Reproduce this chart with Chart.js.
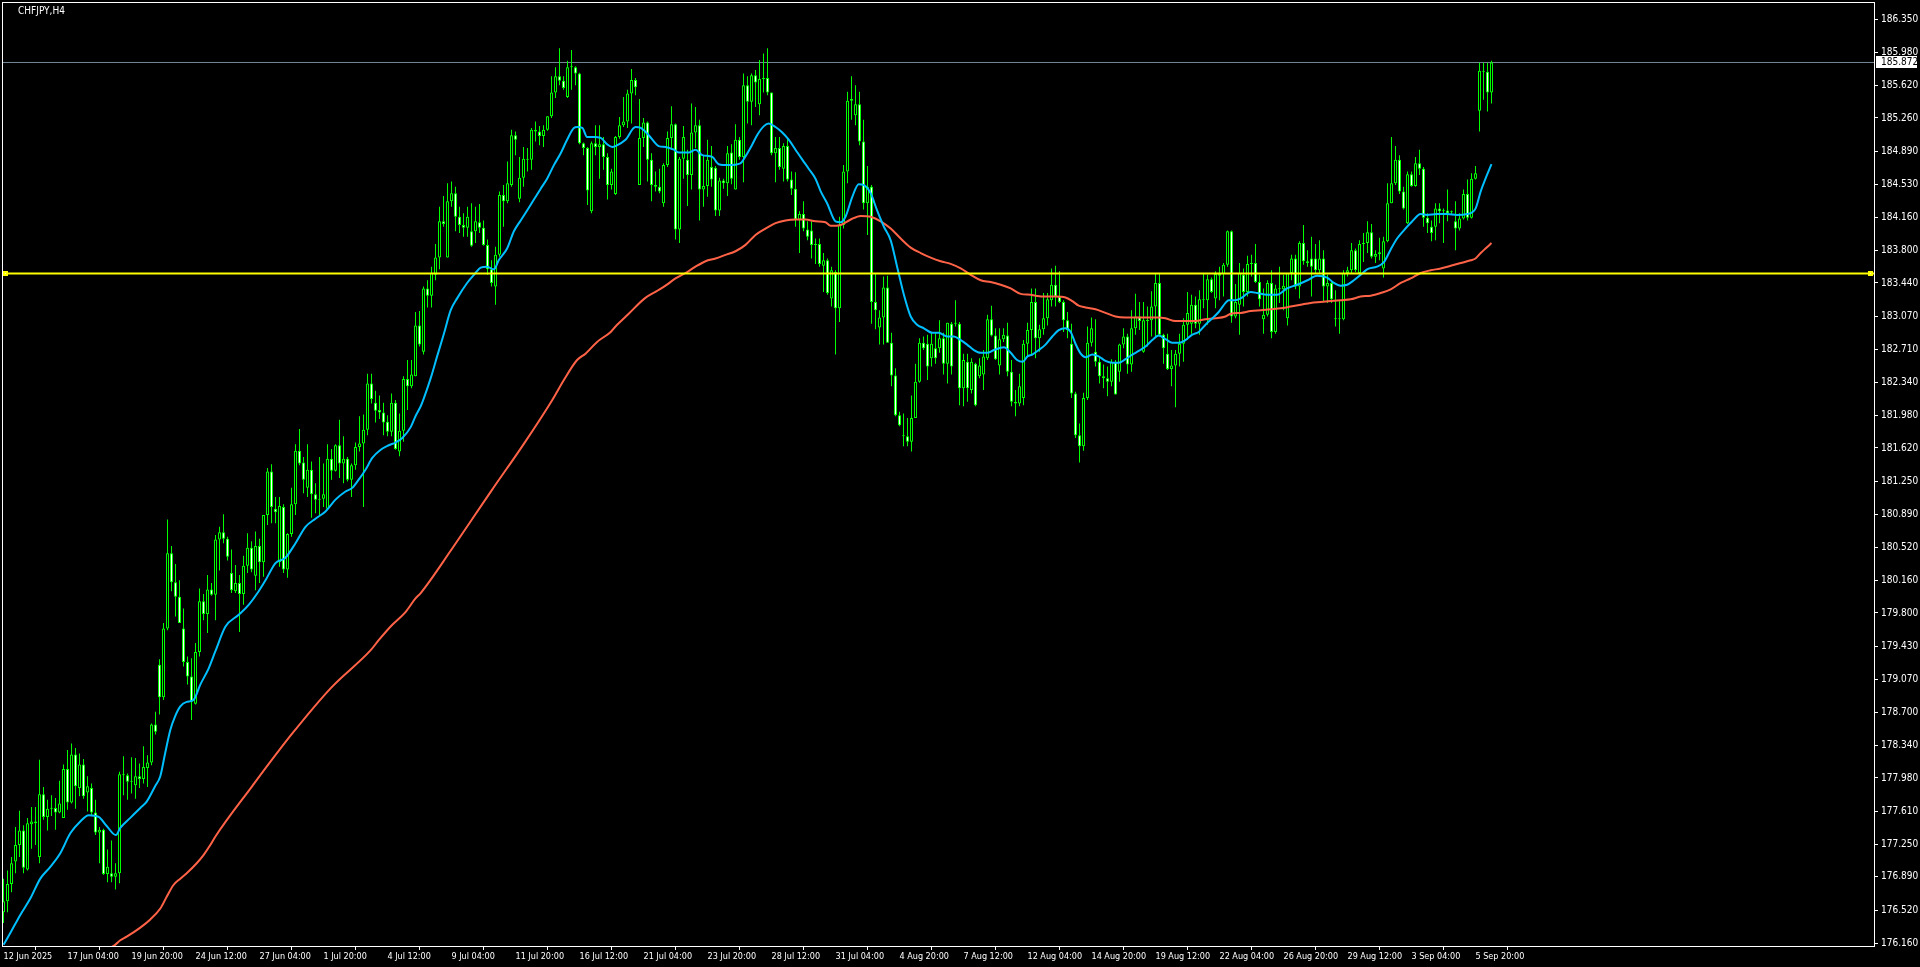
<!DOCTYPE html>
<html>
<head>
<meta charset="utf-8">
<title>CHFJPY,H4</title>
<script src="https://cdn.jsdelivr.net/npm/chart.js@4.4.1/dist/chart.umd.min.js"></script>
<style>
  html, body { margin: 0; padding: 0; background: #000; overflow: hidden; }
  canvas { display: block; }
</style>
</head>
<body>
<canvas id="chart" width="1920" height="967"></canvas>
<script>
// CHFJPY H4, one candle per 4 hours, first bar 12 Jun 2025 12:00
const symbolTitle = 'CHFJPY,H4';

const opens = [
  176.50,176.62,176.81,177.06,177.24,177.40,176.97,177.47,177.50,177.11,
  177.80,177.55,177.64,177.65,177.60,177.54,178.08,177.71,178.24,177.87,
  178.13,177.82,177.87,177.60,177.38,177.41,176.92,176.93,176.89,176.93,
  178.02,178.01,177.94,177.90,178.00,177.97,178.09,178.15,178.57,179.23,
  178.87,179.63,180.46,180.14,179.98,179.63,179.26,179.10,178.80,179.37,
  179.93,179.79,180.06,180.00,180.61,180.69,180.62,180.24,180.04,180.13,
  180.01,180.32,180.52,180.21,180.54,180.36,180.88,181.36,180.95,180.36,
  180.97,180.28,180.67,181.00,181.59,181.46,181.18,181.38,181.11,181.05,
  181.06,180.95,181.50,181.37,181.65,181.45,181.50,181.27,181.43,181.63,
  181.67,181.82,182.33,182.12,182.04,182.01,181.91,181.80,182.12,181.58,
  181.81,182.38,182.30,182.41,182.97,182.68,183.38,183.30,183.53,183.72,
  184.12,183.72,184.34,184.43,184.17,184.08,184.05,184.01,184.01,184.11,
  184.05,183.86,183.59,183.40,183.75,184.41,184.34,184.52,185.07,184.37,
  184.60,184.81,184.80,185.13,185.11,185.06,185.13,185.28,185.54,185.72,
  185.67,185.49,185.82,185.82,185.75,184.98,184.93,184.23,184.98,184.94,
  184.97,184.83,184.52,184.42,185.05,185.18,185.22,185.53,185.68,184.52,
  185.04,185.21,184.80,184.52,184.50,184.32,184.74,185.04,185.19,184.03,
  184.81,184.80,184.63,185.10,185.18,184.47,184.51,184.72,184.71,184.24,
  184.57,184.54,184.88,184.47,185.02,184.83,185.62,185.44,185.73,185.41,
  185.69,185.70,185.54,184.87,184.93,184.70,184.95,184.58,184.48,184.14,
  184.20,184.03,184.02,183.86,183.87,183.63,183.69,183.27,183.56,183.16,
  184.08,184.67,185.45,185.29,185.41,185.00,184.32,184.50,183.23,182.95,
  183.06,183.39,182.78,182.42,181.98,181.75,181.75,181.69,181.95,182.35,
  182.78,182.77,182.61,182.72,182.72,182.83,182.55,182.99,182.99,182.99,
  182.28,182.57,182.26,182.55,182.41,182.43,182.61,183.04,182.86,182.53,
  182.82,182.86,182.46,182.13,182.11,182.17,182.77,182.92,183.23,182.83,
  182.93,183.05,183.25,183.42,183.29,183.23,183.03,182.77,182.22,181.76,
  181.64,182.17,182.78,182.68,182.57,182.41,182.39,182.35,182.57,182.46,
  182.76,182.85,182.54,182.94,183.07,182.68,183.03,183.03,183.18,183.44,
  182.87,182.66,182.49,182.53,182.66,182.77,182.98,182.99,183.20,182.99,
  183.26,183.25,183.48,183.27,183.54,183.54,183.64,184.01,183.07,183.20,
  183.53,183.34,183.65,183.66,183.45,183.04,183.09,183.44,182.90,183.38,
  183.37,183.05,183.55,183.71,183.40,183.88,183.68,183.71,183.71,183.58,
  183.71,183.40,183.44,183.05,183.05,183.04,183.55,183.58,183.80,183.55,
  183.87,183.88,184.00,183.73,183.76,183.60,183.90,184.32,184.54,184.80,
  184.45,184.10,184.64,184.51,184.76,184.70,184.16,184.06,184.06,184.26,
  184.23,184.24,184.22,184.12,184.04,184.15,184.42,184.16,184.59,185.34,
  185.78,185.77,185.54
];

const highs = [
  176.87,176.96,177.11,177.44,177.62,177.46,177.54,177.66,177.66,178.18,
  177.88,177.74,177.79,177.76,177.95,178.13,178.29,178.36,178.31,178.25,
  178.19,178.00,177.92,177.74,177.44,177.42,177.19,177.29,177.04,178.05,
  178.22,178.03,178.21,178.20,178.14,178.33,178.23,178.58,178.71,179.29,
  179.69,180.83,180.54,180.34,180.16,179.85,179.32,179.30,179.47,180.07,
  180.01,180.22,180.13,180.66,180.75,180.89,180.64,180.50,180.33,180.22,
  180.43,180.68,180.59,180.70,180.62,180.88,181.40,181.44,181.08,181.08,
  181.00,180.68,181.18,181.66,181.83,181.52,181.66,181.47,181.23,181.52,
  181.45,181.66,181.61,181.66,181.93,181.75,181.52,181.45,181.68,181.97,
  181.99,182.44,182.44,182.25,182.20,182.12,181.98,182.22,182.15,182.00,
  182.41,182.59,182.59,183.12,183.13,183.40,183.47,183.62,183.87,184.28,
  184.40,184.54,184.56,184.50,184.28,184.21,184.28,184.32,184.28,184.31,
  184.13,183.92,183.69,183.84,184.45,184.52,184.78,185.13,185.11,184.83,
  184.94,184.93,185.15,185.22,185.17,185.18,185.28,185.72,185.82,186.03,
  185.72,185.89,186.01,185.83,185.76,184.99,184.94,185.00,185.18,185.18,
  185.05,184.87,184.70,185.06,185.27,185.49,185.57,185.80,185.70,185.47,
  185.26,185.22,184.87,184.67,184.70,184.76,185.11,185.39,185.20,184.83,
  185.17,184.91,185.42,185.38,185.24,184.85,185.02,184.95,184.73,184.60,
  184.59,184.95,184.97,185.19,185.05,185.75,185.72,185.75,185.79,185.90,
  185.97,186.03,185.54,185.05,185.05,184.98,185.05,184.67,184.66,184.23,
  184.34,184.12,184.12,183.93,183.93,183.77,183.71,183.62,183.58,184.17,
  184.74,185.55,185.72,185.62,185.55,185.24,184.73,184.52,183.55,183.14,
  183.51,183.52,182.89,182.50,182.02,182.00,181.95,182.20,182.55,182.83,
  182.85,182.87,182.89,182.89,183.03,182.89,183.00,183.01,183.25,183.01,
  182.66,182.66,182.61,182.56,182.61,182.70,183.09,183.19,182.94,182.94,
  182.94,183.00,182.59,182.26,182.44,182.81,183.00,183.38,183.38,182.98,
  183.33,183.33,183.60,183.63,183.57,183.25,183.12,182.99,182.24,181.89,
  182.23,182.96,183.06,183.04,182.63,182.54,182.52,182.60,182.59,182.77,
  182.94,182.88,183.14,183.32,183.23,183.23,183.18,183.35,183.54,183.54,
  182.88,182.88,182.70,182.70,182.88,183.05,183.34,183.31,183.29,183.36,
  183.54,183.53,183.50,183.57,183.62,183.66,184.02,184.02,183.43,183.66,
  183.60,183.74,183.75,183.87,183.53,183.38,183.47,183.58,183.42,183.62,
  183.53,183.55,183.75,183.75,183.90,184.08,183.80,183.95,183.87,183.91,
  183.80,183.53,183.47,183.36,183.25,183.58,183.62,183.88,183.82,183.91,
  183.99,184.12,184.09,183.80,183.94,183.95,184.54,185.05,184.95,184.85,
  184.50,184.67,184.67,184.83,184.91,184.72,184.21,184.13,184.32,184.32,
  184.26,184.47,184.24,184.34,184.21,184.47,184.58,184.65,184.73,185.87,
  185.87,185.87,185.89
];

const lows = [
  176.38,176.50,176.72,176.93,177.11,176.93,176.96,177.20,177.24,177.04,
  177.52,177.40,177.56,177.41,177.59,177.54,177.63,177.70,177.64,177.78,
  177.75,177.61,177.57,177.35,177.04,176.91,176.83,176.83,176.75,176.82,
  177.79,177.74,177.81,177.75,177.87,177.92,177.88,178.12,178.46,178.68,
  178.84,179.61,180.04,179.76,179.69,179.21,179.01,178.62,178.79,179.32,
  179.72,179.58,179.99,179.72,180.27,180.57,180.38,180.02,180.02,179.59,
  179.89,180.24,180.25,180.05,180.13,180.20,180.77,180.79,180.79,180.31,
  180.24,180.19,180.64,180.88,181.43,181.12,181.08,180.85,180.90,180.88,
  180.97,180.94,181.27,181.36,181.29,181.23,181.25,181.08,181.38,181.58,
  180.97,181.76,182.11,181.90,181.94,181.76,181.75,181.75,181.60,181.53,
  181.69,182.04,182.28,182.41,182.74,182.65,183.17,183.17,183.47,183.59,
  184.06,183.72,184.28,184.01,183.99,183.95,183.95,183.84,183.88,183.99,
  183.85,183.53,183.40,183.20,183.73,184.06,184.32,184.50,184.85,184.33,
  184.50,184.67,184.69,185.00,184.96,184.94,185.12,185.26,185.48,185.62,
  185.57,185.48,185.57,185.62,184.97,184.85,184.30,184.21,184.85,184.59,
  184.69,184.36,184.47,184.41,185.03,185.16,185.15,185.20,185.51,184.52,
  184.94,184.56,184.34,184.45,184.43,184.28,184.72,184.91,183.92,183.88,
  184.59,184.29,184.47,184.93,184.13,184.28,184.39,184.50,184.18,184.18,
  184.48,184.40,184.53,184.47,184.80,184.55,185.20,185.18,185.38,185.29,
  185.54,185.51,184.85,184.55,184.69,184.56,184.56,184.41,184.06,183.77,
  184.01,183.91,183.71,183.65,183.62,183.34,183.31,183.18,182.65,183.01,
  184.04,184.54,185.24,185.18,184.96,184.25,183.97,182.99,182.93,182.76,
  182.76,182.78,182.30,181.97,181.86,181.64,181.64,181.58,181.95,182.34,
  182.70,182.37,182.52,182.55,182.67,182.43,182.33,182.43,182.96,182.09,
  182.08,182.13,182.22,182.08,182.39,182.26,182.59,182.85,182.59,182.43,
  182.79,182.41,182.08,181.97,182.08,182.09,182.63,182.64,182.61,182.68,
  182.87,182.97,183.18,183.18,183.22,182.90,182.83,182.17,181.73,181.46,
  181.59,182.15,182.74,182.52,182.33,182.28,182.19,182.30,182.21,182.35,
  182.72,182.44,182.46,182.87,182.92,182.67,182.74,182.85,182.85,182.85,
  182.55,182.48,182.30,182.07,182.52,182.57,182.81,182.88,182.94,182.87,
  183.16,182.98,183.33,183.16,183.25,183.29,183.62,183.00,183.05,182.87,
  183.18,183.29,183.51,183.44,183.18,182.88,183.07,182.83,182.88,183.22,
  183.14,182.97,183.47,183.37,183.27,183.64,183.62,183.29,183.55,183.55,
  183.23,183.22,183.22,182.96,182.88,183.03,183.51,183.55,183.56,183.53,
  183.67,183.77,183.71,183.66,183.69,183.50,183.89,184.32,184.52,184.42,
  184.25,184.09,184.50,184.50,184.63,184.06,183.99,183.90,183.91,184.10,
  183.88,184.12,184.19,183.80,184.02,184.14,184.13,184.15,184.58,185.11,
  185.46,185.33,185.42
];

const closes = [
  176.62,176.81,177.04,177.24,177.40,176.99,177.48,177.50,177.48,177.80,
  177.55,177.64,177.65,177.60,177.70,178.08,177.71,178.24,177.89,178.13,
  177.78,177.89,177.60,177.38,177.41,176.92,177.00,176.89,176.93,178.02,
  178.01,177.94,177.95,178.00,177.97,178.10,178.15,178.57,178.49,178.87,
  179.63,180.46,180.14,179.98,179.69,179.26,179.10,178.82,179.37,179.93,
  179.79,180.06,180.00,180.61,180.69,180.62,180.42,180.05,180.13,180.01,
  180.32,180.52,180.28,180.54,180.36,180.88,181.36,180.97,180.91,180.98,
  180.28,180.67,181.00,181.59,181.45,181.27,181.38,181.11,181.05,181.06,
  181.11,181.50,181.37,181.65,181.45,181.50,181.27,181.43,181.63,181.67,
  181.82,182.33,182.16,182.03,182.01,181.90,181.80,182.12,181.61,181.81,
  182.38,182.30,182.43,182.97,182.76,183.38,183.30,183.55,183.72,184.12,
  184.09,184.34,184.43,184.17,184.08,184.05,184.17,183.85,184.12,184.05,
  183.86,183.59,183.44,183.75,184.41,184.34,184.54,185.07,185.02,184.60,
  184.81,184.80,185.13,185.11,185.06,185.13,185.28,185.54,185.72,185.67,
  185.59,185.82,185.82,185.75,184.98,184.93,184.46,184.98,184.94,184.97,
  184.83,184.52,184.67,185.05,185.18,185.22,185.53,185.68,185.60,185.04,
  185.21,184.80,184.52,184.50,184.45,184.74,185.04,185.19,184.03,184.81,
  185.05,184.63,185.10,185.18,184.47,184.51,184.80,184.58,184.24,184.57,
  184.54,184.87,184.59,185.02,184.83,185.62,185.44,185.73,185.65,185.69,
  185.70,185.54,184.87,184.93,184.72,184.95,184.58,184.48,184.14,184.20,
  184.04,183.95,183.86,183.87,183.65,183.69,183.33,183.58,183.16,184.08,
  184.67,185.45,185.47,185.41,185.00,184.32,184.50,183.23,183.14,183.06,
  183.39,182.78,182.42,181.98,181.87,181.75,181.69,181.95,182.35,182.78,
  182.72,182.52,182.77,182.61,182.83,182.55,183.00,182.52,182.99,182.28,
  182.59,182.28,182.57,182.09,182.53,182.63,183.04,182.86,182.60,182.82,
  182.87,182.46,182.13,182.11,182.30,182.77,182.92,183.23,182.83,182.93,
  183.05,183.26,183.42,183.29,183.23,183.03,182.92,182.22,181.76,181.64,
  182.17,182.78,182.94,182.57,182.41,182.39,182.35,182.57,182.21,182.76,
  182.85,182.54,182.94,183.07,183.02,183.03,183.02,183.18,183.44,182.87,
  182.72,182.49,182.53,182.66,182.77,182.98,183.11,183.20,182.99,183.26,
  183.25,183.48,183.34,183.54,183.52,183.64,184.01,183.07,183.23,183.55,
  183.34,183.65,183.66,183.45,183.26,183.09,183.44,182.90,183.38,183.37,
  183.41,183.55,183.71,183.40,183.88,183.68,183.66,183.62,183.58,183.71,
  183.40,183.44,183.26,183.04,183.04,183.55,183.58,183.80,183.58,183.87,
  183.88,184.00,183.73,183.76,183.78,183.90,184.32,184.54,184.80,184.45,
  184.26,184.64,184.51,184.76,184.70,184.16,184.10,183.99,184.26,184.23,
  184.24,184.21,184.22,184.04,184.15,184.42,184.16,184.59,184.65,185.78,
  185.77,185.54,185.872
];

// fast moving average (blue), read at bar positions
const fastBars = [
  0,1.7,4.2,6.7,9.2,11.7,14.2,16.7,19.2,21.3,23.8,25.8,28.1,29.2,31.7,34.2,35.8,37.9,39.2,40.4,41.7,42.9,44.2,45.8,47.5,49.2,51.3,52.9,
  55.5,58.8,61.3,63.8,65.5,68,70.5,73,75.5,78,80.5,83,85.5,87.2,88.8,90.5,92.2,94.3,96.3,98,99.7,101.8,103,104.3,
  105.1,106.8,108.4,110.1,111.8,113.4,115.9,118,119.3,120.9,122.6,123.8,125.9,127.6,129.3,130.9,132.6,134.3,135.9,137.6,139.3,140.9,142.6,143.4,144.7,145.9,147.6,149.3,150.9,152.2,
  153,155.5,158,159.3,161.3,163.8,165.5,167.6,168.8,171.3,173,174.7,177.2,178.8,181.3,184.2,185.4,187.1,188.4,190.1,191.3,193,194.7,196.3,198,199.7,201.3,203,
  204.3,205.9,208,209.3,210.5,212.2,213.8,215.1,216.8,218.4,220.1,221.8,223.4,225.1,226.8,228.4,230.1,232.2,233.8,235.9,237.6,239.3,240.9,242.6,244.3,245.9,247.6,250.1,251.8,253.4,254.8,256,
  257.2,258.8,260.5,262.2,263.8,265.5,266.8,268,269.3,270.5,272.2,273.8,275.5,277.2,278.8,280.5,282.2,283.8,285.5,287.2,288.8,290.5,292.2,293.8,295.5,297.2,298.8,300.5,302.2,303.8,305.5,306.3,
  308,309.3,311.8,313.4,315.9,318.4,320.9,323.4,326,328.4,330.9,332.6,334.3,335.9,337.6,339.3,340.9,343.4,345.1,346.8,348.4,350.1,352.2,354.3,355.9,358.4,360.9,363.4,365.9,368,369.3,370.5,372
];
const fastValues = [
  176.14,176.27,176.47,176.65,176.87,177.00,177.15,177.37,177.50,177.57,177.55,177.45,177.35,177.43,177.54,177.65,177.72,177.89,178.00,178.25,178.51,178.66,178.77,178.82,178.84,179.01,179.19,179.37,
  179.65,179.78,179.89,180.04,180.16,180.35,180.41,180.57,180.75,180.84,180.92,181.05,181.14,181.18,181.27,181.38,181.51,181.60,181.65,181.68,181.73,181.85,181.97,182.08,
  182.17,182.39,182.63,182.88,183.14,183.27,183.44,183.55,183.61,183.62,183.59,183.69,183.82,184.01,184.13,184.24,184.36,184.48,184.59,184.74,184.87,185.02,185.15,185.16,185.15,185.05,185.05,185.04,184.97,184.94,
  184.95,185.02,185.16,185.15,185.07,184.95,184.94,184.91,184.88,184.88,184.91,184.85,184.83,184.75,184.74,184.76,184.83,184.96,185.07,185.17,185.20,185.16,185.10,185.02,184.91,184.80,184.70,184.59,
  184.45,184.32,184.12,184.11,184.17,184.39,184.53,184.52,184.43,184.24,184.06,183.91,183.62,183.31,183.07,182.98,182.94,182.89,182.89,182.85,182.85,182.81,182.76,182.70,182.67,182.67,182.70,182.73,182.67,182.59,182.57,182.63,
  182.65,182.70,182.76,182.85,182.92,182.94,182.90,182.77,182.66,182.62,182.65,182.63,182.58,182.56,182.56,182.60,182.65,182.69,182.74,182.81,182.86,182.82,182.78,182.78,182.81,182.87,182.90,182.98,183.05,183.12,183.22,183.25,
  183.25,183.27,183.34,183.33,183.31,183.31,183.38,183.42,183.47,183.52,183.50,183.44,183.41,183.42,183.47,183.53,183.59,183.62,183.67,183.81,183.93,184.02,184.12,184.20,184.19,184.20,184.20,184.19,184.20,184.26,184.45,184.59,184.75
];

// slow moving average (red), read at bar positions
const slowBars = [
  24,27.9,29.2,30.8,34.2,36.7,39.2,40.8,42.5,44.2,
  45.8,48.3,50,51.7,52.9,62,72,82,91.8,93.8,
  97.2,100.5,103,104.3,112,122,130,137.2,140.1,143.4,
  145.5,148.4,151.8,153,156.3,160.3,163.3,165.5,168,170.5,
  173,175.5,178,180.5,183,185.5,188,190.5,193,195.5,
  198,200.5,203,205.5,206.8,209.3,211.8,214.3,216.8,219.3,
  221.8,224.3,226.8,229.3,231.8,234.3,236.8,239.3,241.8,244.3,
  246.8,249.3,251.8,254.3,256.8,258,260.5,263,265.5,267.2,
  268.8,270.5,273,275.5,278,280.5,283,285.5,288.8,290.5,
  293,295.5,298,300.5,303,305.5,306.8,309.3,311.8,314.3,
  316.8,319.3,321.8,324.3,326.8,329.3,331.8,334.3,336.8,339.3,
  341.8,344.3,346.8,349.3,351.8,354.3,356.8,359.3,361.8,364.3,
  366.8,368,369.3,370.5,372
];
const slowValues = [
  176.05,176.14,176.19,176.23,176.33,176.42,176.54,176.67,176.80,176.87,
  176.93,177.04,177.13,177.24,177.33,177.88,178.46,178.98,179.39,179.50,
  179.67,179.81,179.96,180.02,180.50,181.15,181.66,182.15,182.37,182.59,
  182.66,182.79,182.90,182.96,183.10,183.27,183.35,183.41,183.49,183.55,
  183.62,183.68,183.71,183.75,183.79,183.86,183.97,184.04,184.10,184.13,
  184.14,184.14,184.12,184.11,184.07,184.08,184.14,184.18,184.17,184.12,
  184.04,183.93,183.83,183.77,183.72,183.68,183.65,183.60,183.53,183.47,
  183.45,183.42,183.38,183.32,183.31,183.30,183.29,183.29,183.28,183.24,
  183.19,183.17,183.15,183.11,183.07,183.06,183.06,183.06,183.06,183.05,
  183.02,183.02,183.02,183.04,183.05,183.07,183.10,183.11,183.13,183.14,
  183.15,183.16,183.18,183.20,183.22,183.23,183.24,183.25,183.26,183.29,
  183.30,183.33,183.37,183.44,183.49,183.55,183.58,183.60,183.63,183.66,
  183.69,183.71,183.77,183.82,183.88
];

const timeLabels = [
  '12 Jun 2025', '17 Jun 04:00', '19 Jun 20:00', '24 Jun 12:00', '27 Jun 04:00', '1 Jul 20:00',
  '4 Jul 12:00', '9 Jul 04:00', '11 Jul 20:00', '16 Jul 12:00', '21 Jul 04:00', '23 Jul 20:00',
  '28 Jul 12:00', '31 Jul 04:00', '4 Aug 20:00', '7 Aug 12:00', '12 Aug 04:00', '14 Aug 20:00',
  '19 Aug 12:00', '22 Aug 04:00', '26 Aug 20:00', '29 Aug 12:00', '3 Sep 04:00', '5 Sep 20:00'
];
const timeTickBars = [0, 16, 32, 48, 64, 80, 96, 112, 128, 144, 160, 176, 192, 208, 224, 240, 256, 272, 288, 304, 320, 336, 352, 368];

const priceTickLabels = [
  '186.350', '185.980', '185.620', '185.260', '184.890', '184.530', '184.160', '183.800',
  '183.440', '183.070', '182.710', '182.340', '181.980', '181.620', '181.250', '180.890',
  '180.520', '180.160', '179.800', '179.430', '179.070', '178.700', '178.340', '177.980',
  '177.610', '177.250', '176.890', '176.520', '176.160'
];

const levelPrice = 183.544;   // yellow horizontal line
const bidPrice = 185.872;     // last price line

const FONT = '"DejaVu Sans Condensed", "DejaVu Sans", sans-serif';
const LIME = '#00ff00';
const X_MIN = -0.375, X_MAX = 467.625;
const Y_MIN = 176.127, Y_MAX = 186.539;

const barIdx = closes.map((c, i) => i);
const wickData = barIdx.map(i => ({ x: i, y: [lows[i], highs[i]] }));
const bodyData = barIdx.map(i => ({ x: i, y: [Math.min(opens[i], closes[i]), Math.max(opens[i], closes[i])] }));
const bodyFill = barIdx.map(i => closes[i] < opens[i] ? '#ffffff' : '#000000');

const mtPlugin = {
  id: 'mtDecor',
  afterDraw(chart) {
    const { ctx, chartArea: a, scales } = chart;
    ctx.save();
    // frame
    ctx.strokeStyle = '#ffffff';
    ctx.lineWidth = 1;
    ctx.strokeRect(a.left + 0.5, a.top + 0.5, a.right - a.left, a.bottom - a.top);
    // title
    ctx.fillStyle = '#ffffff';
    ctx.font = '10px ' + FONT;
    ctx.textBaseline = 'alphabetic';
    ctx.textAlign = 'left';
    ctx.fillText(symbolTitle, 18, 14);
    // handles of the horizontal line
    const ly = Math.round(scales.y.getPixelForValue(levelPrice));
    ctx.fillStyle = '#ffff00';
    ctx.fillRect(3, ly - 3, 5, 5);
    ctx.fillRect(a.right - 6, ly - 3, 5, 5);
    ctx.fillStyle = '#ffffc8';
    ctx.fillRect(5, ly - 1, 1, 1);
    ctx.fillRect(a.right - 4, ly - 1, 1, 1);
    // bid price label
    const by = scales.y.getPixelForValue(bidPrice);
    ctx.fillStyle = '#ffffff';
    ctx.fillRect(a.right + 2, Math.round(by) - 6, 41, 12);
    ctx.fillStyle = '#000000';
    ctx.font = '10px ' + FONT;
    ctx.textBaseline = 'middle';
    ctx.fillText(bidPrice.toFixed(3), a.right + 7, by);
    ctx.restore();
  }
};

new Chart(document.getElementById('chart'), {
  type: 'bar',
  data: {
    datasets: [
      { type: 'line', label: 'Bid', data: [{ x: X_MIN, y: bidPrice }, { x: X_MAX, y: bidPrice }],
        borderColor: '#778899', borderWidth: 1, pointRadius: 0, order: 5 },
      { label: 'Wicks', data: wickData, backgroundColor: LIME, borderWidth: 0, barThickness: 1,
        grouped: false, minBarLength: 1, inflateAmount: 0, order: 3 },
      { label: 'Bodies', data: bodyData, backgroundColor: bodyFill, borderColor: LIME, borderWidth: 1,
        borderSkipped: false, barThickness: 3, grouped: false, minBarLength: 1, inflateAmount: 0, order: 2 },
      { type: 'line', label: 'Slow MA', data: slowBars.map((b, i) => ({ x: b, y: slowValues[i] })),
        borderColor: '#ff6347', borderWidth: 2, pointRadius: 0, cubicInterpolationMode: 'monotone', order: 1 },
      { type: 'line', label: 'Fast MA', data: fastBars.map((b, i) => ({ x: b, y: fastValues[i] })),
        borderColor: '#00bfff', borderWidth: 2, pointRadius: 0, cubicInterpolationMode: 'monotone', order: 0 },
      { type: 'line', label: 'Level', data: [{ x: X_MIN, y: levelPrice }, { x: X_MAX, y: levelPrice }],
        borderColor: '#ffff00', borderWidth: 2, pointRadius: 0, order: -1 }
    ]
  },
  options: {
    responsive: false,
    animation: false,
    events: [],
    layout: { padding: { left: 2, top: 2, right: 0, bottom: 0 } },
    plugins: { legend: { display: false }, tooltip: { enabled: false } },
    scales: {
      x: {
        type: 'linear', min: X_MIN, max: X_MAX, offset: false, bounds: 'data',
        grid: { drawOnChartArea: false, drawTicks: true, tickLength: 4, color: '#ffffff', lineWidth: 1 },
        border: { display: false },
        afterBuildTicks: s => { s.ticks = timeTickBars.map(v => ({ value: v })); },
        afterFit: s => { s.height = 21; s.paddingLeft = 0; s.paddingRight = 0; },
        ticks: {
          autoSkip: false, maxRotation: 0, minRotation: 0, align: 'start', padding: 1,
          color: '#ffffff', font: { family: FONT, size: 9 },
          callback: (v, i) => timeLabels[i]
        }
      },
      y: {
        type: 'linear', position: 'right', min: Y_MIN, max: Y_MAX, bounds: 'data',
        grid: { drawOnChartArea: false, drawTicks: true, tickLength: 4, color: '#ffffff', lineWidth: 1 },
        border: { display: false },
        afterBuildTicks: s => { s.ticks = priceTickLabels.map(t => ({ value: parseFloat(t) })); },
        afterFit: s => { s.width = 46; s.paddingTop = 0; s.paddingBottom = 0; },
        ticks: {
          autoSkip: false, padding: 3, color: '#ffffff', font: { family: FONT, size: 10 },
          callback: (v, i) => priceTickLabels[i]
        }
      }
    }
  },
  plugins: [mtPlugin]
});
</script>
</body>
</html>
